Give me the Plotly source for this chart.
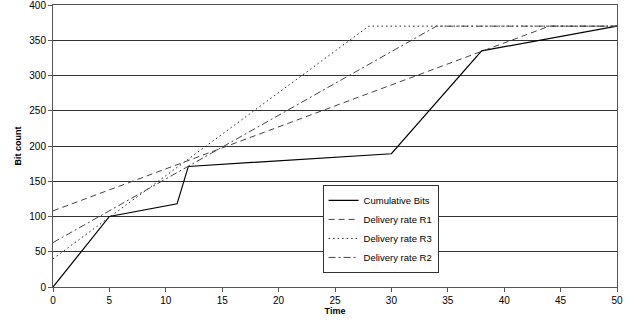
import plotly.graph_objects as go

cum_x = [0, 5, 11, 12, 30, 38, 50]
cum_y = [0, 100, 118, 171, 189, 335, 370]
r1_x = [0, 44, 50]
r1_y = [108, 370, 370]
r3_x = [0, 28, 50]
r3_y = [40, 370, 370]
r2_x = [0, 34, 50]
r2_y = [63, 370, 370]

fig = go.Figure()
fig.add_trace(go.Scatter(x=cum_x, y=cum_y, mode="lines", name="Cumulative Bits",
                         line=dict(color="black", width=1.2)))
fig.add_trace(go.Scatter(x=r1_x, y=r1_y, mode="lines", name="Delivery rate R1",
                         line=dict(color="#444444", width=1, dash="6px,4px")))
fig.add_trace(go.Scatter(x=r3_x, y=r3_y, mode="lines", name="Delivery rate R3",
                         line=dict(color="#222222", width=1, dash="1.5px,3px")))
fig.add_trace(go.Scatter(x=r2_x, y=r2_y, mode="lines", name="Delivery rate R2",
                         line=dict(color="#444444", width=1, dash="7px,3px,2px,3px")))

fig.update_layout(
    width=631, height=321,
    margin=dict(l=53, r=14, t=5, b=34),
    paper_bgcolor="white", plot_bgcolor="white",
    font=dict(family="Liberation Sans, Arial", size=10, color="black"),
    showlegend=True,
    legend=dict(x=0.478, y=0.362, xanchor="left", yanchor="top",
                bgcolor="white", bordercolor="#333333", borderwidth=1,
                font=dict(size=9.5), tracegroupgap=0, itemwidth=30),
    xaxis=dict(range=[0, 50], tickvals=list(range(0, 51, 5)), showgrid=False,
               zeroline=False, showline=True, linecolor="#555555", linewidth=1,
               mirror=True, ticks="outside", ticklen=4, tickcolor="#555555",
               ticklabeloverflow="allow", automargin=False,
               title=dict(text="<b>Time</b>", font=dict(size=9), standoff=2)),
    yaxis=dict(range=[0, 400], tickvals=list(range(0, 401, 50)), showgrid=True,
               gridcolor="#333333", gridwidth=1, zeroline=False, showline=True,
               linecolor="#555555", linewidth=1, mirror=True, ticks="outside",
               ticklen=4, tickcolor="#555555",
               ticklabeloverflow="allow", automargin=False,
               title=dict(text="<b>Bit count</b>", font=dict(size=9), standoff=6)),
)
fig.write_html("out.html", config={"displayModeBar": False},
               post_script="document.body.style.margin='0';")
